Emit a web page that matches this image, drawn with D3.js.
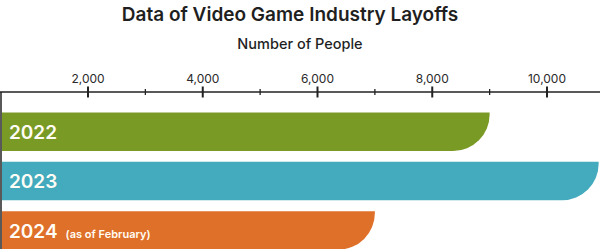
<!DOCTYPE html>
<html>
<head>
<meta charset="utf-8">
<script src="https://cdn.jsdelivr.net/npm/d3@7"></script>
<style>
  html, body { margin: 0; padding: 0; background: #fff; }
  svg { display: block; font-family: Inter, "Open Sans", sans-serif; }
</style>
</head>
<body>
<div id="chart"></div>
<script>
const width = 600;
const height = 249;

// data
const years = ["2022", "2023", "2024"];
const notes = ["", "", "(as of February)"];
const layoffs = [9000, 10900, 7000];
const colors = ["#7a9a26", "#43abbd", "#df7029"];
const majorTicks = [2000, 4000, 6000, 8000, 10000];
const minorTicks = [3000, 5000, 7000, 9000];

const axisY = 92;
const plotLeft = 2;

// the chart is cropped on the left, zero sits just off screen
const x = d3.scaleLinear()
  .domain([0, 11000])
  .range([-26.75, -26.75 + 11000 * 0.057375]);

const y = d3.scaleBand()
  .domain(years)
  .range([112.5, 249.6])
  .paddingInner(0.22)
  .paddingOuter(0);

const svg = d3.select("#chart").append("svg")
  .attr("width", width)
  .attr("height", height);

// titles
svg.append("text")
  .attr("x", 290)
  .attr("y", 20.5)
  .attr("text-anchor", "middle")
  .style("font-size", "19px")
  .style("font-weight", 600)
  .style("fill", "#1f1f1f")
  .text("Data of Video Game Industry Layoffs");

svg.append("text")
  .attr("x", 300)
  .attr("y", 48.5)
  .attr("text-anchor", "middle")
  .style("font-size", "14.5px")
  .style("font-weight", 500)
  .style("fill", "#1f1f1f")
  .text("Number of People");

// axis
svg.append("line")
  .attr("x1", 0).attr("x2", width)
  .attr("y1", axisY).attr("y2", axisY)
  .attr("stroke", "#222").attr("stroke-width", 1.5);

svg.append("line")
  .attr("x1", 1).attr("x2", 1)
  .attr("y1", axisY).attr("y2", height)
  .attr("stroke", "#222").attr("stroke-width", 1.5);

svg.selectAll(".major")
  .data(majorTicks)
  .join("line")
  .attr("class", "major")
  .attr("x1", d => x(d)).attr("x2", d => x(d))
  .attr("y1", axisY - 5.5).attr("y2", axisY + 5.5)
  .attr("stroke", "#222").attr("stroke-width", 2);

svg.selectAll(".minor")
  .data(minorTicks)
  .join("line")
  .attr("class", "minor")
  .attr("x1", d => x(d)).attr("x2", d => x(d))
  .attr("y1", axisY - 3).attr("y2", axisY + 3)
  .attr("stroke", "#222").attr("stroke-width", 1.3);

svg.selectAll(".tick-label")
  .data(majorTicks)
  .join("text")
  .attr("class", "tick-label")
  .attr("x", d => x(d))
  .attr("y", 82.5)
  .attr("text-anchor", "middle")
  .style("font-size", "12px")
  .style("fill", "#2a2a2a")
  .text(d3.format(","));

// bars: square top-right, big rounded bottom-right
function barPath(x0, x1, y0, h) {
  const r = Math.min(h * 0.95, x1 - x0);
  return `M${x0},${y0} H${x1} V${y0 + h - r} A${r},${r} 0 0 1 ${x1 - r},${y0 + h} H${x0} Z`;
}

svg.selectAll(".bar")
  .data(years)
  .join("path")
  .attr("class", "bar")
  .attr("fill", (d, i) => colors[i])
  .attr("d", (d, i) => barPath(Math.max(x(0), plotLeft), x(layoffs[i]), y(d), y.bandwidth()));

const labels = svg.selectAll(".bar-label")
  .data(years)
  .join("text")
  .attr("class", "bar-label")
  .attr("x", 9)
  .attr("y", d => y(d) + y.bandwidth() / 2 + 7.3)
  .style("fill", "#fffdf5")
  .style("font-weight", 600);

labels.append("tspan")
  .style("font-size", "19px")
  .text(d => d);

labels.append("tspan")
  .attr("dx", 8)
  .style("font-size", "11px")
  .style("font-weight", 600)
  .text((d, i) => notes[i]);
</script>
</body>
</html>
